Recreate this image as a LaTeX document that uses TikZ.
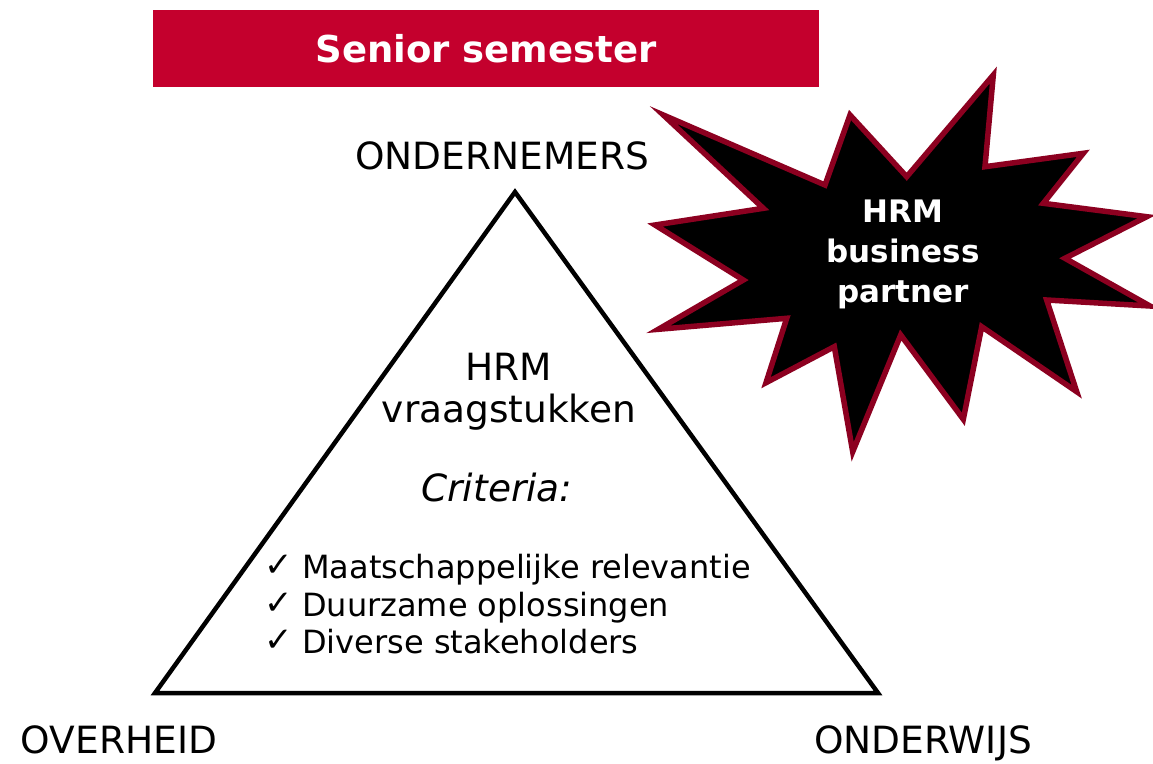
\documentclass[tikz,border=0pt]{standalone}
\usepackage{fontspec}
\setmainfont{DejaVu Sans}
\definecolor{hdrred}{RGB}{196,0,45}
\definecolor{starline}{RGB}{140,0,32}
\begin{document}
\begin{tikzpicture}[x=1pt,y=-1pt,
  big/.style={font=\fontsize{37.5}{44}\selectfont, inner sep=0pt, anchor=base},
  lst/.style={font=\fontsize{32}{38}\selectfont, inner sep=0pt, anchor=base west},
  chk/.style={font=\fontsize{34}{38}\selectfont, inner sep=0pt, anchor=base},
  startxt/.style={font=\fontsize{31}{40}\selectfont\bfseries, text=white, align=center, inner sep=0pt}]
\useasboundingbox (0,0) rectangle (1153,763);
\fill[white] (0,0) rectangle (1153,763);
% header
\fill[hdrred] (153,10) rectangle (819,87);
\node[font=\fontsize{37}{44}\selectfont\bfseries, text=white, inner sep=0pt, anchor=base] (hdr) at (486,62) {Senior semester};
% triangle
\coordinate (apex) at (515,192);
\coordinate (bl) at (155,693);
\coordinate (br) at (878,693);
\draw[line width=4.5pt, line join=miter] (apex) -- (br) -- (bl) -- cycle;
\node[big] (ond) at (502,169) {ONDERNEMERS};
\node[big] (ovh) at (119,753) {OVERHEID};
\node[big] (onw) at (923,753) {ONDERWIJS};
\node[big] (hrm) at (509,380) {HRM};
\node[big] (vr) at (509,422) {vraagstukken};
\node[big, font=\fontsize{37.5}{44}\selectfont\itshape] (crit) at (497,501) {Criteria:};
\node[chk] (k1) at (279,576) {✓};
\node[chk] (k2) at (279,614) {✓};
\node[chk] (k3) at (279,651) {✓};
\node[lst] (c1) at (302,578) {Maatschappelijke relevantie};
\node[lst] (c2) at (302,616) {Duurzame oplossingen};
\node[lst] (c3) at (302,653) {Diverse stakeholders};
% star
\draw[line width=5.5pt, draw=starline, fill=black, line join=miter]
 (663.3,115) -- (825,185) -- (850,115) -- (906.7,176.7) -- (993.3,75) -- (985,166.7)
 -- (1083.3,153.3) -- (1043.3,203.3) -- (1146.7,216.7) -- (1065,258.3) -- (1150,306)
 -- (1046.7,300) -- (1076.7,391.7) -- (981.7,326.7) -- (963.3,419.3) -- (900.7,335)
 -- (852.7,451.7) -- (834.3,346.7) -- (766,382.7) -- (786.7,318.3) -- (658.3,329.3)
 -- (743.3,280) -- (655,225) -- (763.3,208.3) -- cycle;
\node[startxt] (star) at (903,254) {HRM\\business\\partner};
\end{tikzpicture}
\end{document}
